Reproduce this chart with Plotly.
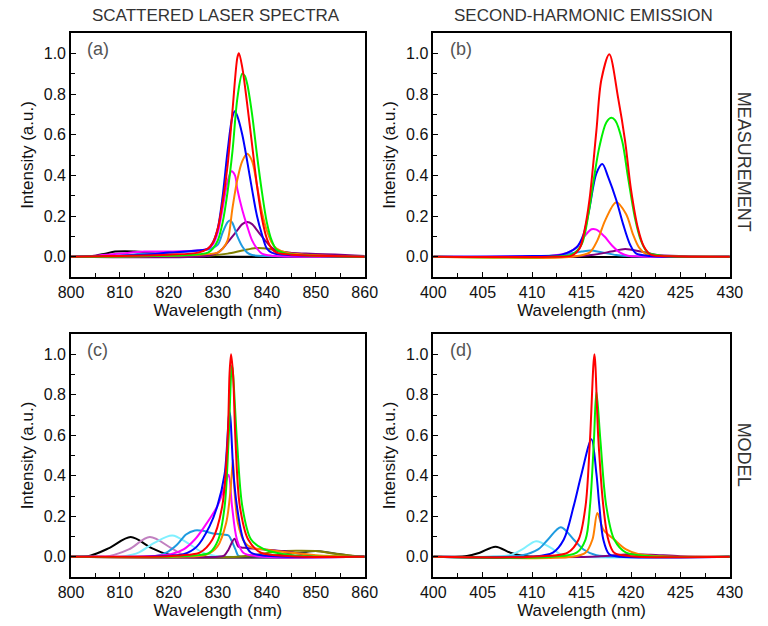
import plotly.graph_objects as go

# ---------------- Panel (a): scattered laser spectra, measurement ----------------
a_black_x = [800, 803, 805, 807, 809, 811, 813, 816, 819, 822, 825, 860]
a_black_y = [0, 0.002, 0.005, 0.015, 0.025, 0.027, 0.025, 0.02, 0.012, 0.005, 0.001, 0]
a_olive_x = [800, 828, 832, 835, 838, 840, 843, 846, 850, 855, 860]
a_olive_y = [0, 0.005, 0.015, 0.03, 0.043, 0.04, 0.025, 0.015, 0.01, 0.005, 0]
a_purple_x = [800, 828, 830, 831, 832, 833, 834, 835, 836, 837, 838, 839, 840, 841, 842, 844, 848, 852, 856, 860]
a_purple_y = [0, 0.005, 0.02, 0.04, 0.07, 0.1, 0.13, 0.16, 0.17, 0.16, 0.13, 0.1, 0.07, 0.045, 0.03, 0.02, 0.015, 0.012, 0.008, 0.003]
a_lblue_x = [800, 810, 815, 820, 826, 828, 830, 831, 832, 832.5, 833, 834, 835, 836, 837, 840, 860]
a_lblue_y = [0, 0.005, 0.015, 0.02, 0.03, 0.035, 0.06, 0.12, 0.17, 0.178, 0.165, 0.1, 0.05, 0.02, 0.008, 0.003, 0]
a_magenta_x = [800, 805, 810, 815, 820, 826, 828, 829, 830, 831, 832, 832.8, 833.5, 834, 835, 836, 837, 838, 839, 841, 860]
a_magenta_y = [0, 0.005, 0.015, 0.025, 0.025, 0.03, 0.04, 0.06, 0.12, 0.24, 0.37, 0.42, 0.4, 0.33, 0.23, 0.15, 0.08, 0.04, 0.015, 0.005, 0]
a_orange_x = [800, 826, 830, 831, 832, 833, 834, 835, 836, 837, 838, 839, 840, 841, 842, 844, 848, 860]
a_orange_y = [0, 0.01, 0.02, 0.04, 0.08, 0.24, 0.38, 0.47, 0.506, 0.47, 0.35, 0.22, 0.13, 0.07, 0.04, 0.02, 0.01, 0]
a_blue_x = [800, 815, 820, 826, 828, 829, 830, 831, 832, 833, 833.5, 834, 835, 836, 837, 838, 839, 840, 841, 843, 860]
a_blue_y = [0, 0.01, 0.02, 0.03, 0.04, 0.07, 0.14, 0.3, 0.52, 0.69, 0.715, 0.69, 0.6, 0.47, 0.33, 0.2, 0.11, 0.04, 0.02, 0.01, 0]
a_green_x = [800, 825, 828, 829, 830, 831, 832, 833, 834, 835, 835.5, 836, 837, 838, 839, 840, 841, 842, 844, 850, 860]
a_green_y = [0, 0.01, 0.02, 0.04, 0.08, 0.17, 0.32, 0.52, 0.78, 0.9, 0.89, 0.85, 0.7, 0.5, 0.32, 0.17, 0.08, 0.035, 0.015, 0.005, 0]
a_red_x = [800, 820, 826, 828, 829, 830, 831, 832, 833, 834, 834.3, 835, 836, 837, 838, 839, 840, 841, 842, 845, 860]
a_red_y = [0, 0.01, 0.02, 0.04, 0.07, 0.14, 0.27, 0.45, 0.72, 0.98, 1.0, 0.93, 0.75, 0.55, 0.35, 0.19, 0.09, 0.04, 0.02, 0.01, 0]

# ---------------- Panel (b): second-harmonic emission, measurement ----------------
b_lblue_x = [400, 410, 413, 415, 415.9, 417, 418.5, 420, 430]
b_lblue_y = [0, 0.002, 0.01, 0.025, 0.03, 0.022, 0.008, 0.002, 0]
b_purple_x = [400, 414, 416, 418, 419.4, 421, 422.5, 425, 430]
b_purple_y = [0, 0, 0.008, 0.025, 0.038, 0.025, 0.01, 0.003, 0]
b_magenta_x = [400, 410, 412, 413.6, 414.5, 415.2, 416.0, 416.5, 417.3, 418.1, 418.9, 419.7, 421, 430]
b_magenta_y = [0, 0.002, 0.005, 0.02, 0.046, 0.095, 0.135, 0.133, 0.1, 0.054, 0.02, 0.005, 0.001, 0]
b_orange_x = [400, 414, 415.8, 416.6, 417.4, 418.5, 419.5, 420.2, 420.8, 421.5, 423, 430]
b_orange_y = [0, 0, 0.02, 0.08, 0.18, 0.268, 0.21, 0.11, 0.046, 0.013, 0.003, 0]
b_blue_x = [400, 410, 413, 414.5, 415.2, 415.8, 416.5, 417.1, 417.7, 418.5, 419.2, 419.9, 420.5, 422, 430]
b_blue_y = [0, 0.003, 0.01, 0.046, 0.11, 0.24, 0.41, 0.456, 0.39, 0.28, 0.16, 0.06, 0.016, 0.003, 0]
b_green_x = [400, 412, 414, 415.0, 415.7, 416.2, 416.8, 417.5, 418.0, 418.4, 419.1, 419.7, 420.4, 421.0, 421.7, 423, 430]
b_green_y = [0, 0, 0.01, 0.06, 0.21, 0.37, 0.54, 0.66, 0.683, 0.67, 0.57, 0.39, 0.19, 0.08, 0.02, 0.005, 0]
b_red_x = [400, 412, 414, 414.8, 415.3, 415.8, 416.5, 417.0, 417.8, 418.7, 419.4, 420.0, 420.7, 421.3, 422.0, 424, 430]
b_red_y = [0, 0, 0.005, 0.04, 0.13, 0.28, 0.62, 0.87, 0.995, 0.78, 0.57, 0.33, 0.14, 0.05, 0.01, 0.002, 0]

# ---------------- Panel (c): scattered laser spectra, model ----------------
c_black_x = [800, 803.9, 807.9, 812.2, 816.4, 819.7, 823, 860]
c_black_y = [0, 0.005, 0.044, 0.097, 0.044, 0.012, 0, 0]
c_pink_x = [800, 805, 807.9, 811.8, 816.1, 820.4, 823.0, 826, 860]
c_pink_y = [0, 0.001, 0.004, 0.036, 0.097, 0.044, 0.01, 0, 0]
c_cyan_x = [800, 809, 811.2, 813.8, 817.1, 820.7, 823.7, 827.0, 829.6, 832, 860]
c_cyan_y = [0, 0, 0.004, 0.02, 0.07, 0.105, 0.07, 0.02, 0.004, 0, 0]
c_lblue_x = [800, 814, 817.1, 819.7, 821.7, 823.5, 825.3, 827, 829, 831, 832.2, 832.8, 833.6, 834.2, 836, 860]
c_lblue_y = [0, 0, 0.003, 0.023, 0.06, 0.11, 0.13, 0.128, 0.115, 0.11, 0.105, 0.08, 0.036, 0.005, 0, 0]
c_gray_x = [800, 838, 843, 847, 850, 853, 857, 860]
c_gray_y = [0, 0, 0.01, 0.02, 0.028, 0.02, 0.005, 0]
c_olive_x = [800, 834, 838, 842, 846, 850, 854, 858, 860]
c_olive_y = [0, 0, 0.01, 0.025, 0.03, 0.028, 0.015, 0.004, 0]
c_purple_x = [800, 830, 831.3, 832.2, 833.4, 834.2, 835.5, 839.5, 843.4, 847.4, 850, 855, 860]
c_purple_y = [0, 0, 0.006, 0.036, 0.089, 0.05, 0.044, 0.036, 0.028, 0.012, 0.004, 0, 0]
c_magenta_x = [800, 812, 817, 820.4, 823.0, 825.3, 827.3, 829.9, 831.3, 832.2, 832.9, 833.9, 835.2, 838, 860]
c_magenta_y = [0, 0, 0.004, 0.012, 0.036, 0.085, 0.15, 0.25, 0.34, 0.405, 0.25, 0.085, 0.02, 0.003, 0]
c_orange_x = [800, 822, 827.6, 829.9, 831.7, 832.6, 833.1, 833.4, 834.1, 835.5, 837, 840, 845, 850, 860]
c_orange_y = [0, 0, 0.01, 0.05, 0.167, 0.33, 0.479, 0.33, 0.167, 0.07, 0.045, 0.035, 0.02, 0.008, 0]
c_blue_x = [800, 815, 820, 823, 825.7, 828.3, 829.9, 831.4, 832.4, 833.2, 833.9, 835.2, 836.8, 840, 860]
c_blue_y = [0, 0, 0.005, 0.012, 0.05, 0.15, 0.25, 0.41, 0.716, 0.41, 0.25, 0.085, 0.02, 0.005, 0]
c_green_x = [800, 820, 826, 828.3, 830.1, 831.4, 832.2, 832.9, 833.9, 835.0, 836.8, 839.5, 845, 860]
c_green_y = [0, 0, 0.008, 0.02, 0.085, 0.25, 0.577, 0.946, 0.577, 0.25, 0.085, 0.036, 0.008, 0]
c_red_x = [800, 815, 820, 824, 826.3, 828.9, 830.9, 832.0, 832.4, 832.7, 833.1, 833.6, 834.5, 836.2, 838.8, 845, 860]
c_red_y = [0, 0, 0.003, 0.01, 0.02, 0.085, 0.25, 0.577, 0.905, 1.0, 0.905, 0.577, 0.25, 0.085, 0.02, 0.003, 0]

# ---------------- Panel (d): second-harmonic emission, model ----------------
d_black_x = [400, 402, 403.4, 404.7, 406.3, 407.8, 409.2, 411, 430]
d_black_y = [0, 0, 0.004, 0.02, 0.05, 0.02, 0.004, 0, 0]
d_cyan_x = [400, 405, 407.7, 409.0, 410.4, 411.9, 412.9, 415, 430]
d_cyan_y = [0, 0, 0.007, 0.036, 0.077, 0.044, 0.012, 0, 0]
d_lblue_x = [400, 406, 409.0, 410.6, 411.6, 412.9, 414.2, 415.2, 416.5, 419, 430]
d_lblue_y = [0, 0, 0.007, 0.036, 0.085, 0.146, 0.085, 0.036, 0.007, 0, 0]
d_purple_x = [400, 416, 418, 420, 422, 425, 430]
d_purple_y = [0, 0, 0.006, 0.012, 0.01, 0.003, 0]
d_orange_x = [400, 414, 415.4, 416.1, 416.6, 417.2, 418.3, 419.5, 420.8, 423, 430]
d_orange_y = [0, 0, 0.02, 0.085, 0.216, 0.134, 0.085, 0.036, 0.012, 0.002, 0]
d_blue_x = [400, 410, 412.1, 413.2, 414.2, 415.0, 416.0, 416.5, 416.8, 417.2, 417.8, 419, 430]
d_blue_y = [0, 0, 0.02, 0.085, 0.25, 0.41, 0.58, 0.41, 0.25, 0.085, 0.012, 0, 0]
d_green_x = [400, 412, 414.5, 415.4, 415.85, 416.25, 416.5, 416.9, 417.5, 418.3, 419.5, 422, 430]
d_green_y = [0, 0, 0.02, 0.085, 0.25, 0.577, 0.815, 0.577, 0.25, 0.085, 0.02, 0.003, 0]
d_red_x = [400, 410, 413.6, 414.7, 415.4, 415.85, 416.3, 416.7, 417.2, 417.7, 418.3, 420, 430]
d_red_y = [0, 0, 0.02, 0.085, 0.25, 0.577, 1.0, 0.577, 0.25, 0.085, 0.02, 0.003, 0]

# axis settings / labels
x_range_laser = [800, 860]
x_range_shg = [400, 430]
y_range = [-0.1, 1.1]
panel_labels = ["(a)", "(b)", "(c)", "(d)"]
col_titles = ["SCATTERED LASER SPECTRA", "SECOND-HARMONIC EMISSION"]
row_titles = ["MEASUREMENT", "MODEL"]

COL = {
    "red": "#ff0000", "green": "#00f000", "blue": "#0000ff", "orange": "#ff8000",
    "magenta": "#ff00ff", "lblue": "#1e9be0", "purple": "#800080", "olive": "#808000",
    "black": "#000000", "cyan": "#7ff0ff", "pink": "#c080c0", "gray": "#404040",
}

panels = [
    [("black", a_black_x, a_black_y), ("olive", a_olive_x, a_olive_y), ("purple", a_purple_x, a_purple_y),
     ("lblue", a_lblue_x, a_lblue_y), ("magenta", a_magenta_x, a_magenta_y), ("orange", a_orange_x, a_orange_y),
     ("blue", a_blue_x, a_blue_y), ("green", a_green_x, a_green_y), ("red", a_red_x, a_red_y)],
    [("lblue", b_lblue_x, b_lblue_y), ("purple", b_purple_x, b_purple_y), ("magenta", b_magenta_x, b_magenta_y),
     ("orange", b_orange_x, b_orange_y), ("blue", b_blue_x, b_blue_y), ("green", b_green_x, b_green_y),
     ("red", b_red_x, b_red_y)],
    [("black", c_black_x, c_black_y), ("pink", c_pink_x, c_pink_y), ("cyan", c_cyan_x, c_cyan_y),
     ("lblue", c_lblue_x, c_lblue_y), ("gray", c_gray_x, c_gray_y), ("olive", c_olive_x, c_olive_y),
     ("purple", c_purple_x, c_purple_y), ("magenta", c_magenta_x, c_magenta_y), ("orange", c_orange_x, c_orange_y),
     ("blue", c_blue_x, c_blue_y), ("green", c_green_x, c_green_y), ("red", c_red_x, c_red_y)],
    [("black", d_black_x, d_black_y), ("cyan", d_cyan_x, d_cyan_y), ("lblue", d_lblue_x, d_lblue_y),
     ("purple", d_purple_x, d_purple_y), ("orange", d_orange_x, d_orange_y), ("blue", d_blue_x, d_blue_y),
     ("green", d_green_x, d_green_y), ("red", d_red_x, d_red_y)],
]

W, H = 768, 626
xdoms = [[60 / W, 364 / W], [435 / W, 742 / W]]
ydoms = [[1 - 277 / H, 1 - 33 / H], [1 - 577 / H, 1 - 334 / H]]

FONT = "Liberation Sans, Arial, sans-serif"
fig = go.Figure()

for i, curves in enumerate(panels):
    row, col = divmod(i, 2)
    ax = "" if i == 0 else str(i + 1)
    for cname, xs, ys in curves:
        fig.add_trace(go.Scatter(
            x=xs, y=ys, mode="lines", xaxis="x" + ax, yaxis="y" + ax,
            line=dict(color=COL[cname], width=2, shape="spline", smoothing=0.9),
            showlegend=False, hoverinfo="skip"))
    xr = x_range_laser if col == 0 else x_range_shg
    common = dict(showline=True, mirror=True, linecolor="black", linewidth=1.5,
                  ticks="inside", ticklen=5, tickwidth=1.2, tickcolor="black",
                  showgrid=False, tickfont=dict(family=FONT, size=16, color="#111"))
    fig.layout["xaxis" + ax] = dict(
        common, domain=xdoms[col], range=xr, dtick=10 if col == 0 else 5, tick0=xr[0],
        anchor="y" + ax, zeroline=False,
        minor=dict(ticks="inside", ticklen=4, dtick=5 if col == 0 else 2.5, tickcolor="black", tickwidth=1.2),
        title=dict(text="Wavelength (nm)", font=dict(family=FONT, size=17, color="#111"), standoff=2))
    fig.layout["yaxis" + ax] = dict(
        common, domain=ydoms[row], range=y_range, dtick=0.2, tick0=0, tickformat=".1f",
        anchor="x" + ax, zeroline=True, zerolinecolor="black", zerolinewidth=2,
        minor=dict(ticks="inside", ticklen=4, dtick=0.1, tickcolor="black", tickwidth=1.2),
        title=dict(text="Intensity (a.u.)", font=dict(family=FONT, size=17, color="#111"), standoff=6))

annotations = []
for i, lab in enumerate(panel_labels):
    row, col = divmod(i, 2)
    annotations.append(dict(text=lab, xref="paper", yref="paper",
                            x=xdoms[col][0] + 15 / W, y=ydoms[row][1] - 4 / H,
                            xanchor="left", yanchor="top", showarrow=False,
                            font=dict(family=FONT, size=18, color="#555")))
for col, t in enumerate(col_titles):
    annotations.append(dict(text=t, xref="paper", yref="paper",
                            x=(210 if col == 0 else 590) / W, y=1 - 15 / H,
                            xanchor="center", yanchor="middle", showarrow=False,
                            font=dict(family=FONT, size=17, color="#333")))
for row, t in enumerate(row_titles):
    annotations.append(dict(text=t, xref="paper", yref="paper",
                            x=757 / W, y=1 - (162 if row == 0 else 455) / H,
                            xanchor="center", yanchor="middle", showarrow=False, textangle=90,
                            font=dict(family=FONT, size=18, color="#333")))

fig.update_layout(width=W, height=H, margin=dict(l=0, r=0, t=0, b=0),
                  paper_bgcolor="white", plot_bgcolor="white",
                  annotations=annotations)

fig.write_html("out.html")
